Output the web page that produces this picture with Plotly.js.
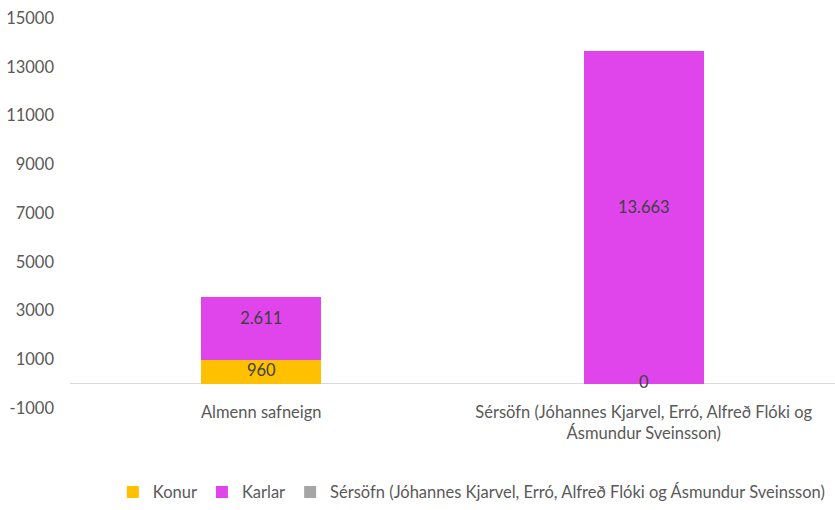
<!DOCTYPE html>
<html>
<head>
<meta charset="utf-8">
<script src="https://cdn.plot.ly/plotly-3.0.1.min.js"></script>
<style>html,body{margin:0;padding:0;background:#fff;}#chart{width:835px;height:510px;}</style>
</head>
<body>
<div id="chart"></div>
<script>
const categories = ["Almenn safneign", "Sérsöfn (Jóhannes Kjarvel, Erró, Alfreð Flóki og<br>Ásmundur Sveinsson)"];
const seriesNames = ["Konur", "Karlar", "Sérsöfn (Jóhannes Kjarvel, Erró, Alfreð Flóki og Ásmundur Sveinsson)"];
const konur = [960, 0];
const karlar = [2611, 13663];
const sersofn = [null, null];
const yTicks = [-1000, 1000, 3000, 5000, 7000, 9000, 11000, 13000, 15000];

const font = "Lato, 'Open Sans', sans-serif";
const txtColor = "#595959";
const fs = 16.5;
const fmt = v => v.toLocaleString("de-DE");

const traces = [
  {type: "bar", name: seriesNames[0], x: categories, y: konur, marker: {color: "#FFC000"}, hoverinfo: "y"},
  {type: "bar", name: seriesNames[1], x: categories, y: karlar, marker: {color: "#E045EC"}, hoverinfo: "y"},
  {type: "bar", name: seriesNames[2], x: categories, y: sersofn, marker: {color: "#A5A5A5"}},
  {type: "scatter", mode: "text", x: categories, y: konur.map(v => v / 2),
   text: konur.map(fmt), textposition: "middle center",
   textfont: {family: font, size: fs, color: "#404040"}, showlegend: false, hoverinfo: "skip"},
  {type: "scatter", mode: "text", x: categories, y: karlar.map((v, i) => konur[i] + v / 2),
   text: karlar.map(fmt), textposition: "top center",
   textfont: {family: font, size: fs, color: "#404040"}, showlegend: false, hoverinfo: "skip"}
];

const layout = {
  width: 835, height: 510,
  margin: {l: 70, r: 0, t: 18, b: 98},
  barmode: "stack",
  bargap: 0.686,
  separators: ",.",
  paper_bgcolor: "#fff", plot_bgcolor: "#fff",
  font: {family: font, size: fs, color: txtColor},
  xaxis: {showgrid: false, showline: false, ticks: "", tickfont: {family: font, size: fs, color: txtColor},
          ticklabelstandoff: -8},
  yaxis: {range: [-1000, 15000], tickvals: yTicks, ticktext: yTicks.map(String), showgrid: false,
          zeroline: true, zerolinecolor: "#D9D9D9", zerolinewidth: 1, showline: false, ticks: "",
          tickfont: {family: font, size: fs, color: txtColor}, ticklabelstandoff: 15},
  showlegend: true,
  legend: {orientation: "h", x: 0.056, xanchor: "left", y: -0.216, yanchor: "middle",
           font: {family: font, size: fs, color: txtColor}, traceorder: "normal", itemwidth: 30},
};

Plotly.newPlot("chart", traces, layout, {displayModeBar: false, staticPlot: true});
</script>
</body>
</html>
